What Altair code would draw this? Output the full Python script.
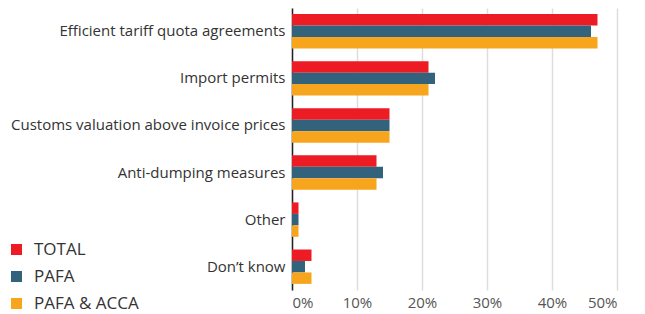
import altair as alt
import pandas as pd

categories = ["Efficient tariff quota agreements", "Import permits",
              "Customs valuation above invoice prices", "Anti-dumping measures",
              "Other", "Don\u2019t know"]
series = ["TOTAL", "PAFA", "PAFA & ACCA"]
total = [47, 21, 15, 13, 1, 3]
pafa = [46, 22, 15, 14, 1, 2]
pafa_acca = [47, 21, 15, 13, 1, 3]
colors = ["#ED1C24", "#33627D", "#F7A51D"]

rows = []
for i, c in enumerate(categories):
    for s, vals in zip(series, [total, pafa, pafa_acca]):
        rows.append({"cat": c, "series": s, "value": vals[i] / 100})
df = pd.DataFrame(rows)

FONT = "Open Sans"

chart = alt.Chart(df).mark_bar().encode(
    y=alt.Y("cat:N", sort=categories, title=None,
            scale=alt.Scale(paddingInner=0.27, paddingOuter=0.13),
            axis=alt.Axis(ticks=False, domain=True, domainColor="#222", domainWidth=1.5,
                          labelFontSize=15, labelColor="#333", labelFont=FONT,
                          labelPadding=7, labelLimit=400)),
    x=alt.X("value:Q", title=None,
            scale=alt.Scale(domain=[0, 0.5], nice=False),
            axis=alt.Axis(format="%", values=[0, 0.1, 0.2, 0.3, 0.4, 0.5],
                          grid=True, gridColor="#DDDDDD", gridWidth=1.5,
                          ticks=False, domain=False, labelFontSize=15,
                          labelColor="#555", labelFont=FONT, labelPadding=5)),
    yOffset=alt.YOffset("series:N", sort=series),
    color=alt.Color("series:N", sort=series,
                    scale=alt.Scale(domain=series, range=colors),
                    legend=alt.Legend(title=None, orient="none", legendX=-284, legendY=233,
                                      symbolType="square", symbolSize=121,
                                      symbolStrokeWidth=0, labelFontSize=17,
                                      labelColor="#333", labelFont=FONT,
                                      rowPadding=9, labelOffset=9)),
).properties(
    width=325, height=282,
    autosize=alt.AutoSizeParams(type="none"),
    padding={"left": 284, "top": 0, "right": 20, "bottom": 30},
).configure_view(stroke=None)

chart.save("out.html", embed_options={"renderer": "svg", "actions": False})
